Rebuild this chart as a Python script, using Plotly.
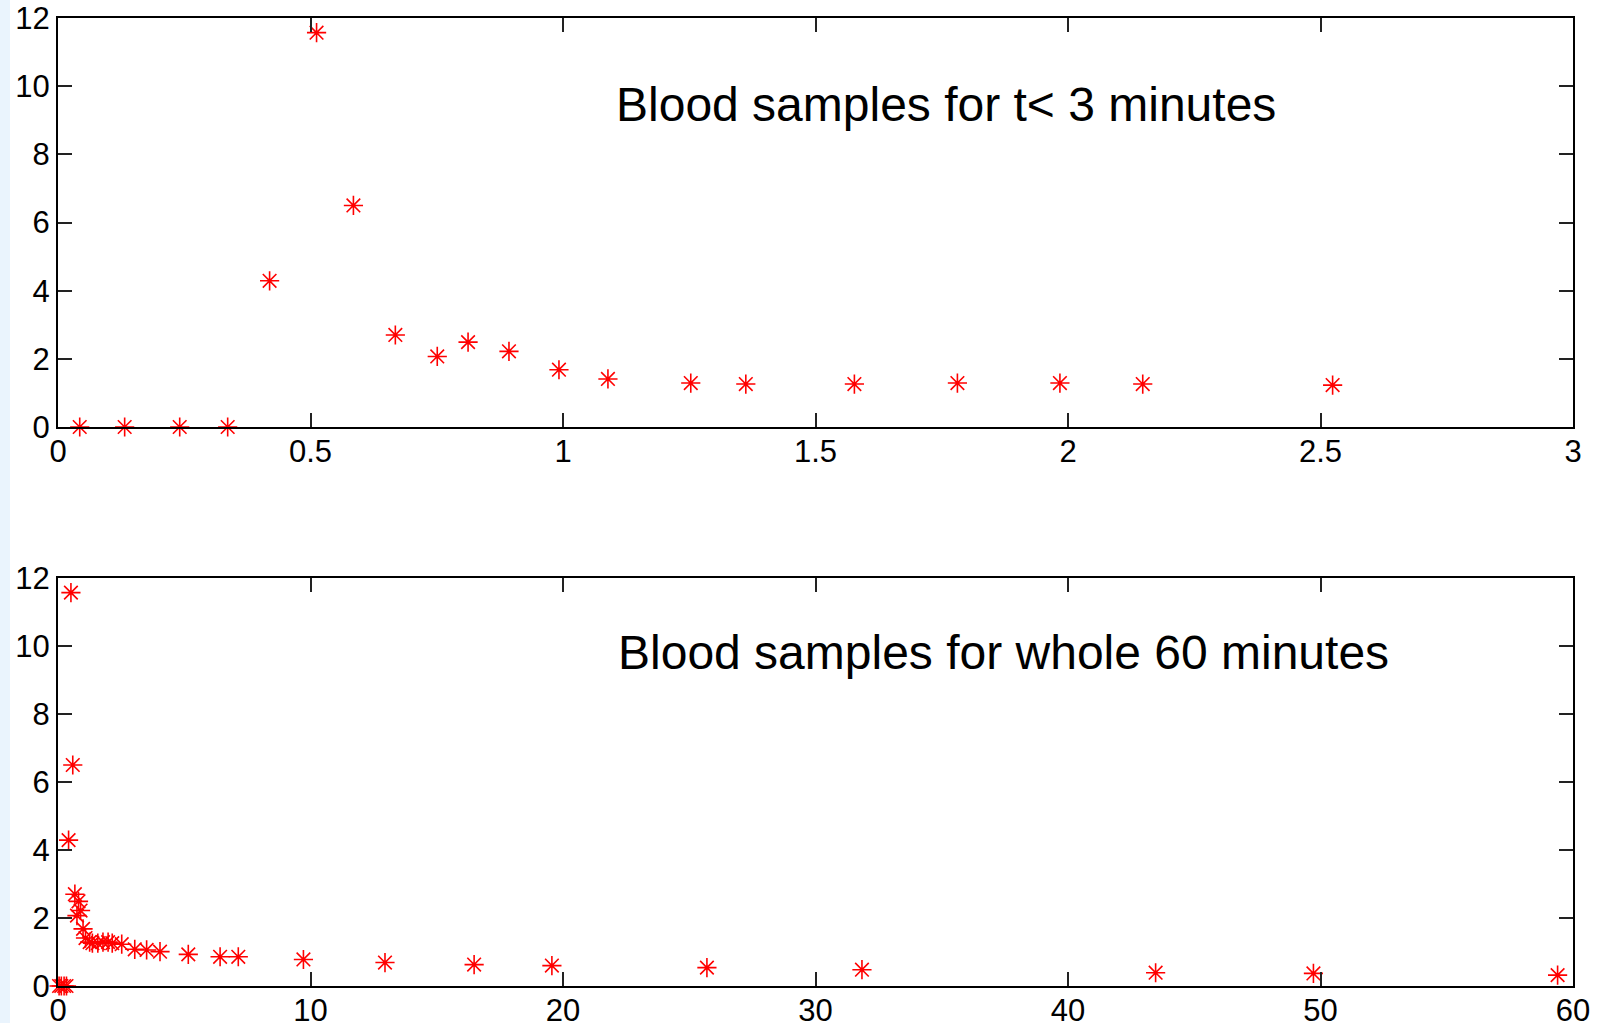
import plotly.graph_objects as go

# Early samples (t < 3 minutes)
t_early = [0.043, 0.132, 0.241, 0.336, 0.419, 0.512, 0.585, 0.668, 0.751, 0.812,
           0.893, 0.992, 1.089, 1.253, 1.362, 1.577, 1.781, 1.984, 2.148, 2.524]
c_early = [0.0, 0.0, 0.0, 0.0, 4.29, 11.57, 6.50, 2.70, 2.07, 2.49,
           2.22, 1.68, 1.41, 1.29, 1.26, 1.26, 1.29, 1.29, 1.26, 1.23]

# Later samples (rest of the 60 minutes)
t_late = [3.04, 3.51, 4.04, 5.16, 6.42, 7.14, 9.72, 12.95, 16.48, 19.56,
          25.70, 31.84, 43.47, 49.72, 59.39]
c_late = [1.08, 1.06, 1.01, 0.93, 0.86, 0.86, 0.78, 0.69, 0.63, 0.60,
          0.54, 0.48, 0.39, 0.37, 0.32]

top_xticks = [0, 0.5, 1, 1.5, 2, 2.5, 3]
top_xlabels = ["0", "0.5", "1", "1.5", "2", "2.5", "3"]
bot_xticks = [0, 10, 20, 30, 40, 50, 60]
bot_xlabels = ["0", "10", "20", "30", "40", "50", "60"]
yticks = [0, 2, 4, 6, 8, 10, 12]
ylabels = ["0", "2", "4", "6", "8", "10", "12"]

title_top = "Blood samples for t< 3 minutes"
title_bot = "Blood samples for whole 60 minutes"

W, H = 1600, 1023
FONT = "Liberation Sans, Arial, sans-serif"

marker = dict(symbol="asterisk-open", size=16, color="#ff0000",
              line=dict(color="#ff0000", width=1.6))

fig = go.Figure()
fig.add_trace(go.Scatter(x=t_early, y=c_early, mode="markers", marker=marker,
                         xaxis="x", yaxis="y", cliponaxis=False, showlegend=False))
fig.add_trace(go.Scatter(x=t_early + t_late, y=c_early + c_late, mode="markers",
                         marker=marker, xaxis="x2", yaxis="y2", cliponaxis=False,
                         showlegend=False))

xd = [58 / W, 1573 / W]
top_dom = [1 - 427 / H, 1 - 18 / H]
bot_dom = [1 - 986 / H, 1 - 578 / H]

axis_common = dict(showline=True, linecolor="black", linewidth=2, mirror="ticks",
                   ticks="inside", ticklen=14, tickwidth=1.5, tickcolor="#222",
                   showgrid=False, zeroline=False, automargin=False,
                   tickfont=dict(family=FONT, size=31, color="black"))
xaxis_extra = dict(ticklabelstandoff=-4)

fig.update_layout(
    width=W, height=H, margin=dict(l=0, r=0, t=0, b=0),
    paper_bgcolor="white", plot_bgcolor="white",
    xaxis=dict(domain=xd, anchor="y", range=[0, 3], tickvals=top_xticks,
               ticktext=top_xlabels, **axis_common, **xaxis_extra),
    yaxis=dict(domain=top_dom, anchor="x", range=[0, 12], tickvals=yticks,
               ticktext=ylabels, **axis_common),
    xaxis2=dict(domain=xd, anchor="y2", range=[0, 60], tickvals=bot_xticks,
                ticktext=bot_xlabels, **axis_common, **xaxis_extra),
    yaxis2=dict(domain=bot_dom, anchor="x2", range=[0, 12], tickvals=yticks,
                ticktext=ylabels, **axis_common),
    shapes=[dict(type="rect", xref="paper", yref="paper", x0=0, x1=10 / W,
                 y0=0, y1=1, fillcolor="#eaf4fd", line=dict(width=0), layer="below")],
    annotations=[
        dict(text=title_top, xref="x", yref="y", x=1.10, y=9.45, xanchor="left",
             yanchor="middle", showarrow=False,
             font=dict(family=FONT, size=48, color="black")),
        dict(text=title_bot, xref="x2", yref="y2", x=22.1, y=9.8, xanchor="left",
             yanchor="middle", showarrow=False,
             font=dict(family=FONT, size=48, color="black")),
    ],
)

fig.write_html("out.html")
